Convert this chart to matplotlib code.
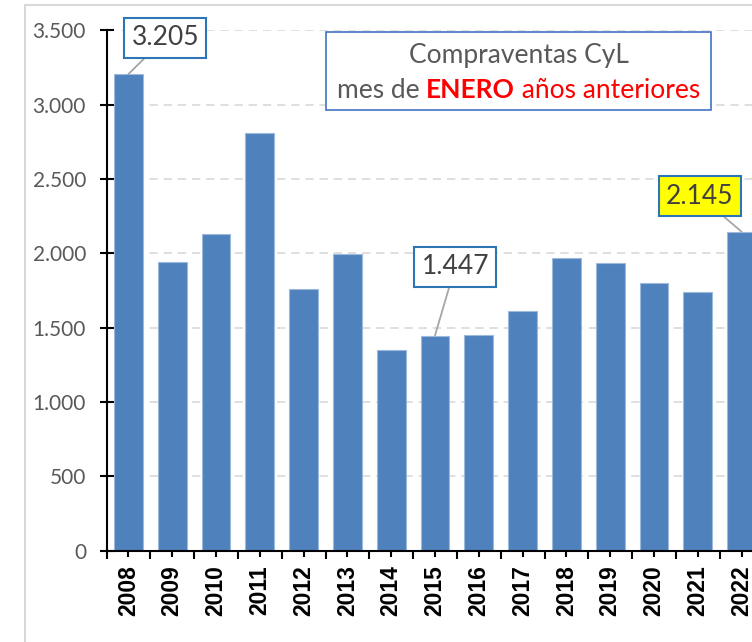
import matplotlib
matplotlib.use("Agg")
import matplotlib.pyplot as plt
from matplotlib.patches import Rectangle
from matplotlib.ticker import FuncFormatter, FixedLocator
from matplotlib.offsetbox import TextArea, HPacker, VPacker, AnnotationBbox

# --- Data ---
years = ["2008", "2009", "2010", "2011", "2012", "2013", "2014", "2015",
         "2016", "2017", "2018", "2019", "2020", "2021", "2022"]
sales = [3205, 1941, 2132, 2807, 1760, 1997, 1350, 1447,
         1451, 1612, 1966, 1933, 1798, 1742, 2145]

# callouts: (index of bar, box centre x in categories, box centre y in units, fill)
callouts = [(0, 0.84, 3448, "white"), (7, 7.46, 1908, "white"), (14, 13.05, 2383, "#FFFF00")]

BAR = "#4F81BD"
GRAY = "#595959"
CALIBRI = ["Lato", "DejaVu Sans"]


def dot_thousands(v, pos=None):
    return f"{v:,.0f}".replace(",", ".")


fig = plt.figure(figsize=(7.52, 6.42), dpi=100)
# chart area frame (left and top edges visible, rest cropped)
fig.patches.append(Rectangle((25 / 752, -0.2), 1.2, 1.2 - 5 / 642, transform=fig.transFigure,
                             fill=False, edgecolor="#D9D9D9", linewidth=1.5))

ax = fig.add_axes([106.5 / 752, 91.3 / 642, 657 / 752, 520.5 / 642])
x = list(range(len(years)))
ax.bar(x, sales, width=0.66, color=BAR, edgecolor="#9DB9DC", linewidth=0.8, zorder=2)

ax.set_xlim(-0.5, len(years) - 0.5)
ax.set_ylim(0, 3500)
ax.set_yticks(range(0, 3501, 500))
ax.yaxis.set_major_formatter(FuncFormatter(dot_thousands))
ax.grid(axis="y", color="#D9D9D9", linestyle=(0, (5, 3.5)), linewidth=1.2, zorder=0)
ax.set_axisbelow(True)

for s in ("top", "right"):
    ax.spines[s].set_visible(False)
for s in ("left", "bottom"):
    ax.spines[s].set_linewidth(1.5)
    ax.spines[s].set_color("black")

ax.set_xticks(x)
ax.set_xticklabels(years, rotation=90, fontfamily="Liberation Sans", fontweight="bold",
                   fontsize=16.5, color="black")
ax.xaxis.set_minor_locator(FixedLocator([i - 0.5 for i in range(len(years) + 1)]))
ax.tick_params(axis="x", which="major", direction="inout", length=9, width=1.5, pad=6)
ax.tick_params(axis="x", which="minor", direction="out", length=6, width=1.5)
ax.tick_params(axis="y", direction="inout", length=9.5, width=1.5, pad=10,
               labelsize=15, labelcolor=GRAY)
for lab in ax.get_yticklabels():
    lab.set_fontfamily(CALIBRI)

# value callouts
for i, bx, by, fill in callouts:
    ax.annotate(dot_thousands(sales[i]), xy=(i, sales[i]), xytext=(bx, by),
                ha="center", va="center", fontsize=19, color="#404040", family=CALIBRI,
                bbox=dict(boxstyle="square,pad=0.28", facecolor=fill, edgecolor="#2E75B6", linewidth=1.5),
                arrowprops=dict(arrowstyle="-", color="#A6A6A6", linewidth=1.3, shrinkA=0, shrinkB=0),
                annotation_clip=False, zorder=5)

# title box
fig.patches.append(Rectangle((326 / 752, 1 - 110 / 642), 385 / 752, 78.3 / 642, transform=fig.transFigure,
                             facecolor="white", edgecolor="#4472C4", linewidth=1.2, zorder=4))
tp = dict(fontsize=19, family=CALIBRI)
line1 = TextArea("Compraventas CyL", textprops=dict(color=GRAY, **tp))
line2 = HPacker(children=[TextArea("mes de ", textprops=dict(color=GRAY, **tp)),
                          TextArea("ENERO", textprops=dict(color="#FF0000", fontweight="bold", **tp)),
                          TextArea(" años anteriores", textprops=dict(color="#FF0000", **tp))],
                align="baseline", pad=0, sep=0)
title = VPacker(children=[line1, line2], align="center", pad=0, sep=7)
ab = AnnotationBbox(title, (518.5 / 752, 1 - 73 / 642), xycoords="figure fraction",
                    frameon=False, zorder=6)
fig.add_artist(ab)

fig.savefig("out.png", dpi=100)
